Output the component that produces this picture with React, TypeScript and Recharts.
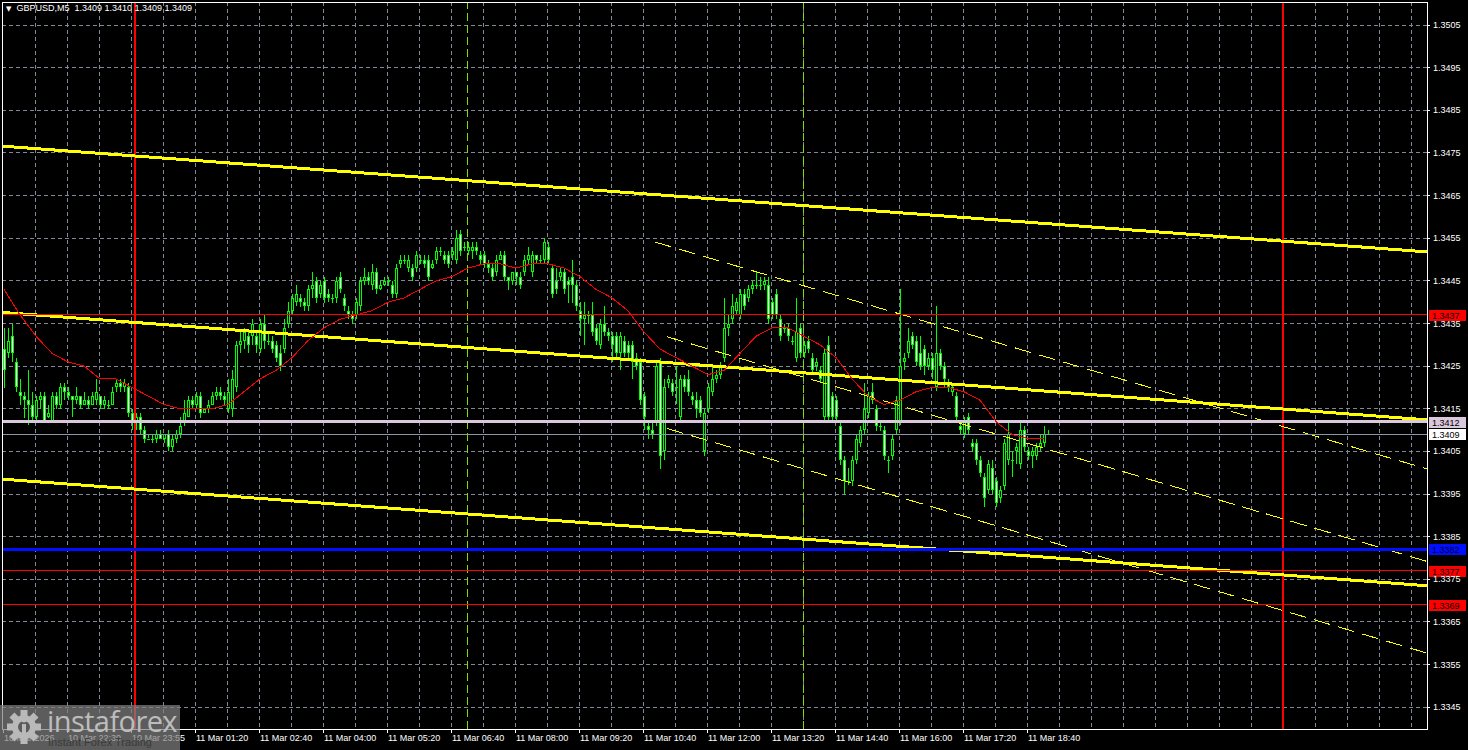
import { ComposedChart, Bar, Line, XAxis, YAxis, CartesianGrid, ReferenceLine } from "recharts";

const FONT = '"Liberation Sans", Arial, sans-serif';
const W = 1468;
const H = 750;

const symbol = "GBPUSD,M5";

// time labels on the bottom scale and the bar position each one sits on
const timeLabels = [
  "10 Mar 2026", "10 Mar 22:30", "10 Mar 23:55", "11 Mar 01:20", "11 Mar 02:40", "11 Mar 04:00",
  "11 Mar 05:20", "11 Mar 06:40", "11 Mar 08:00", "11 Mar 09:20", "11 Mar 10:40", "11 Mar 12:00",
  "11 Mar 13:20", "11 Mar 14:40", "11 Mar 16:00", "11 Mar 17:20", "11 Mar 18:40",
];
const timeTicks = [
  -0.25, 15.75, 31.75, 47.75, 63.75, 79.75, 95.75, 111.75, 127.75, 143.75, 159.75, 175.75,
  191.75, 207.75, 223.75, 239.75, 255.75,
];

const priceTicks = [
  1.3345, 1.3355, 1.3365, 1.3375, 1.3385, 1.3395, 1.3405, 1.3415, 1.3425, 1.3435, 1.3445,
  1.3455, 1.3465, 1.3475, 1.3485, 1.3495, 1.3505,
];

// 5 minute candles: [open, high, low, close]
const candles: [number, number, number, number][] = [
  [1.3429, 1.3434, 1.3420, 1.3424], [1.3428, 1.3434, 1.3427, 1.3431], [1.3432, 1.3435, 1.3426, 1.3428], [1.3426, 1.3427, 1.3419, 1.3420],
  [1.3419, 1.3422, 1.3416, 1.3418], [1.3418, 1.3419, 1.3413, 1.3417], [1.3417, 1.3424, 1.3411, 1.3416], [1.3416, 1.3419, 1.3412, 1.3413],
  [1.3413, 1.3418, 1.3412, 1.3417], [1.3417, 1.3419, 1.3415, 1.3418], [1.3418, 1.3419, 1.3412, 1.3412], [1.3413, 1.3416, 1.3413, 1.3414],
  [1.3412, 1.3419, 1.3412, 1.3418], [1.3418, 1.3419, 1.3415, 1.3416], [1.3416, 1.3421, 1.3415, 1.3420], [1.3420, 1.3421, 1.3417, 1.3419],
  [1.3419, 1.3420, 1.3417, 1.3418], [1.3418, 1.3418, 1.3413, 1.3417], [1.3417, 1.3420, 1.3416, 1.3418], [1.3418, 1.3418, 1.3415, 1.3416],
  [1.3416, 1.3419, 1.3416, 1.3417], [1.3417, 1.3418, 1.3415, 1.3416], [1.3416, 1.3419, 1.3416, 1.3418], [1.3417, 1.3422, 1.3416, 1.3419],
  [1.3418, 1.3418, 1.3415, 1.3416], [1.3416, 1.3418, 1.3415, 1.3417], [1.3416, 1.3417, 1.3415, 1.3416], [1.3416, 1.3420, 1.3416, 1.3419],
  [1.3420, 1.3422, 1.3419, 1.3421], [1.3421, 1.3422, 1.3419, 1.3420], [1.3420, 1.3422, 1.3419, 1.3421], [1.3420, 1.3421, 1.3413, 1.3414],
  [1.3414, 1.3415, 1.3410, 1.3412], [1.3412, 1.3414, 1.3410, 1.3413], [1.3413, 1.3414, 1.3409, 1.3410], [1.3410, 1.3411, 1.3407, 1.3408],
  [1.3408, 1.3409, 1.3408, 1.3408], [1.3408, 1.3409, 1.3407, 1.3408], [1.3408, 1.3410, 1.3407, 1.3409], [1.3409, 1.3410, 1.3408, 1.3408],
  [1.3408, 1.3409, 1.3407, 1.3409], [1.3409, 1.3410, 1.3405, 1.3406], [1.3406, 1.3409, 1.3405, 1.3408], [1.3408, 1.3410, 1.3407, 1.3409],
  [1.3409, 1.3413, 1.3408, 1.3411], [1.3412, 1.3417, 1.3411, 1.3414], [1.3413, 1.3418, 1.3413, 1.3417], [1.3417, 1.3418, 1.3415, 1.3416],
  [1.3416, 1.3419, 1.3415, 1.3418], [1.3418, 1.3419, 1.3413, 1.3414], [1.3414, 1.3415, 1.3414, 1.3415], [1.3415, 1.3417, 1.3414, 1.3416],
  [1.3416, 1.3419, 1.3416, 1.3418], [1.3418, 1.3420, 1.3417, 1.3419], [1.3419, 1.3420, 1.3417, 1.3418], [1.3418, 1.3419, 1.3416, 1.3417],
  [1.3415, 1.3422, 1.3414, 1.3419], [1.3415, 1.3424, 1.3413, 1.3422], [1.3420, 1.3431, 1.3419, 1.3430], [1.3430, 1.3433, 1.3428, 1.3431],
  [1.3431, 1.3434, 1.3429, 1.3433], [1.3432, 1.3433, 1.3428, 1.3430], [1.3432, 1.3436, 1.3430, 1.3435], [1.3432, 1.3433, 1.3428, 1.3430],
  [1.3429, 1.3436, 1.3428, 1.3435], [1.3435, 1.3437, 1.3429, 1.3431], [1.3431, 1.3433, 1.3430, 1.3431], [1.3431, 1.3432, 1.3428, 1.3429],
  [1.3430, 1.3431, 1.3426, 1.3427], [1.3428, 1.3430, 1.3424, 1.3425], [1.3429, 1.3436, 1.3428, 1.3434], [1.3435, 1.3440, 1.3434, 1.3438],
  [1.3438, 1.3442, 1.3437, 1.3441], [1.3440, 1.3444, 1.3439, 1.3442], [1.3441, 1.3442, 1.3439, 1.3440], [1.3440, 1.3441, 1.3438, 1.3439],
  [1.3439, 1.3444, 1.3438, 1.3443], [1.3443, 1.3447, 1.3441, 1.3444], [1.3445, 1.3446, 1.3440, 1.3441], [1.3442, 1.3445, 1.3441, 1.3444],
  [1.3445, 1.3446, 1.3440, 1.3441], [1.3442, 1.3443, 1.3440, 1.3441], [1.3441, 1.3442, 1.3440, 1.3441], [1.3441, 1.3446, 1.3440, 1.3445],
  [1.3446, 1.3447, 1.3442, 1.3443], [1.3441, 1.3442, 1.3438, 1.3439], [1.3438, 1.3439, 1.3436, 1.3437], [1.3437, 1.3438, 1.3435, 1.3436],
  [1.3437, 1.3441, 1.3436, 1.3440], [1.3439, 1.3446, 1.3438, 1.3445], [1.3445, 1.3448, 1.3444, 1.3446], [1.3446, 1.3447, 1.3444, 1.3445],
  [1.3444, 1.3449, 1.3443, 1.3447], [1.3447, 1.3448, 1.3442, 1.3443], [1.3443, 1.3445, 1.3443, 1.3444], [1.3444, 1.3446, 1.3444, 1.3445],
  [1.3445, 1.3446, 1.3444, 1.3445], [1.3444, 1.3445, 1.3441, 1.3442], [1.3442, 1.3449, 1.3441, 1.3448], [1.3449, 1.3451, 1.3448, 1.3450],
  [1.3450, 1.3451, 1.3449, 1.3450], [1.3448, 1.3451, 1.3447, 1.3450], [1.3448, 1.3449, 1.3445, 1.3446], [1.3448, 1.3452, 1.3447, 1.3451],
  [1.3450, 1.3451, 1.3449, 1.3450], [1.3450, 1.3451, 1.3448, 1.3449], [1.3450, 1.3451, 1.3445, 1.3446], [1.3448, 1.3450, 1.3448, 1.3449],
  [1.3450, 1.3453, 1.3449, 1.3452], [1.3452, 1.3453, 1.3451, 1.3452], [1.3451, 1.3452, 1.3449, 1.3450], [1.3451, 1.3452, 1.3448, 1.3449],
  [1.3451, 1.3453, 1.3450, 1.3452], [1.3450, 1.3457, 1.3449, 1.3455], [1.3456, 1.3457, 1.3451, 1.3452], [1.3453, 1.3454, 1.3452, 1.3453],
  [1.3452, 1.3454, 1.3451, 1.3453], [1.3452, 1.3454, 1.3450, 1.3453], [1.3453, 1.3454, 1.3451, 1.3452], [1.3451, 1.3452, 1.3449, 1.3450],
  [1.3451, 1.3452, 1.3448, 1.3449], [1.3449, 1.3450, 1.3447, 1.3448], [1.3448, 1.3449, 1.3445, 1.3446], [1.3447, 1.3451, 1.3446, 1.3450],
  [1.3450, 1.3452, 1.3450, 1.3451], [1.3451, 1.3452, 1.3445, 1.3446], [1.3446, 1.3446, 1.3443, 1.3445], [1.3445, 1.3447, 1.3444, 1.3447],
  [1.3447, 1.3447, 1.3444, 1.3446], [1.3446, 1.3447, 1.3443, 1.3444], [1.3447, 1.3451, 1.3446, 1.3450], [1.3450, 1.3453, 1.3449, 1.3451],
  [1.3447, 1.3452, 1.3446, 1.3451], [1.3451, 1.3451, 1.3449, 1.3450], [1.3450, 1.3451, 1.3449, 1.3450], [1.3450, 1.3455, 1.3449, 1.3454],
  [1.3453, 1.3454, 1.3449, 1.3450], [1.3448, 1.3449, 1.3441, 1.3442], [1.3445, 1.3448, 1.3442, 1.3443], [1.3446, 1.3448, 1.3445, 1.3447],
  [1.3447, 1.3448, 1.3442, 1.3443], [1.3445, 1.3446, 1.3440, 1.3444], [1.3446, 1.3450, 1.3440, 1.3444], [1.3444, 1.3445, 1.3438, 1.3439],
  [1.3438, 1.3440, 1.3432, 1.3436], [1.3436, 1.3440, 1.3430, 1.3437], [1.3437, 1.3438, 1.3435, 1.3437], [1.3437, 1.3440, 1.3432, 1.3433],
  [1.3434, 1.3435, 1.3430, 1.3431], [1.3430, 1.3436, 1.3429, 1.3435], [1.3435, 1.3439, 1.3432, 1.3433], [1.3433, 1.3434, 1.3431, 1.3432],
  [1.3432, 1.3433, 1.3426, 1.3430], [1.3432, 1.3433, 1.3427, 1.3428], [1.3428, 1.3433, 1.3424, 1.3432], [1.3431, 1.3432, 1.3427, 1.3428],
  [1.3430, 1.3431, 1.3427, 1.3428], [1.3430, 1.3431, 1.3422, 1.3426], [1.3427, 1.3428, 1.3424, 1.3425], [1.3426, 1.3427, 1.3416, 1.3417],
  [1.3418, 1.3419, 1.3410, 1.3413], [1.3411, 1.3412, 1.3408, 1.3410], [1.3410, 1.3412, 1.3408, 1.3409], [1.3412, 1.3426, 1.3411, 1.3425],
  [1.3426, 1.3427, 1.3401, 1.3404], [1.3405, 1.3422, 1.3403, 1.3420], [1.3421, 1.3423, 1.3420, 1.3422], [1.3421, 1.3422, 1.3418, 1.3419],
  [1.3420, 1.3425, 1.3416, 1.3420], [1.3413, 1.3423, 1.3412, 1.3422], [1.3422, 1.3423, 1.3419, 1.3420], [1.3422, 1.3424, 1.3418, 1.3419],
  [1.3418, 1.3419, 1.3416, 1.3417], [1.3417, 1.3419, 1.3413, 1.3415], [1.3417, 1.3418, 1.3413, 1.3414], [1.3405, 1.3415, 1.3404, 1.3414],
  [1.3415, 1.3421, 1.3414, 1.3420], [1.3419, 1.3425, 1.3418, 1.3422], [1.3422, 1.3424, 1.3421, 1.3423], [1.3423, 1.3426, 1.3422, 1.3425],
  [1.3427, 1.3441, 1.3426, 1.3434], [1.3434, 1.3437, 1.3432, 1.3435], [1.3436, 1.3442, 1.3435, 1.3439], [1.3438, 1.3441, 1.3437, 1.3440],
  [1.3437, 1.3443, 1.3436, 1.3442], [1.3442, 1.3443, 1.3438, 1.3439], [1.3441, 1.3444, 1.3440, 1.3443], [1.3443, 1.3445, 1.3442, 1.3444],
  [1.3444, 1.3447, 1.3443, 1.3444], [1.3444, 1.3446, 1.3443, 1.3444], [1.3444, 1.3446, 1.3443, 1.3445], [1.3444, 1.3446, 1.3435, 1.3436],
  [1.3440, 1.3441, 1.3436, 1.3437], [1.3442, 1.3443, 1.3436, 1.3437], [1.3436, 1.3437, 1.3431, 1.3432], [1.3434, 1.3435, 1.3433, 1.3434],
  [1.3434, 1.3435, 1.3431, 1.3432], [1.3431, 1.3432, 1.3430, 1.3431], [1.3427, 1.3441, 1.3426, 1.3433], [1.3434, 1.3435, 1.3427, 1.3428],
  [1.3428, 1.3431, 1.3427, 1.3430], [1.3431, 1.3432, 1.3428, 1.3429], [1.3427, 1.3428, 1.3423, 1.3424], [1.3425, 1.3427, 1.3424, 1.3426],
  [1.3424, 1.3425, 1.3421, 1.3422], [1.3413, 1.3429, 1.3412, 1.3428], [1.3430, 1.3432, 1.3412, 1.3413], [1.3418, 1.3419, 1.3412, 1.3413],
  [1.3417, 1.3418, 1.3412, 1.3413], [1.3411, 1.3412, 1.3402, 1.3403], [1.3403, 1.3404, 1.3395, 1.3398], [1.3398, 1.3401, 1.3397, 1.3398],
  [1.3398, 1.3404, 1.3397, 1.3403], [1.3403, 1.3409, 1.3402, 1.3408], [1.3407, 1.3411, 1.3406, 1.3410], [1.3410, 1.3421, 1.3409, 1.3415],
  [1.3414, 1.3419, 1.3413, 1.3418], [1.3419, 1.3421, 1.3416, 1.3417], [1.3415, 1.3416, 1.3410, 1.3411], [1.3411, 1.3412, 1.3410, 1.3411],
  [1.3410, 1.3411, 1.3403, 1.3404], [1.3403, 1.3404, 1.3400, 1.3403], [1.3404, 1.3409, 1.3403, 1.3408], [1.3410, 1.3418, 1.3409, 1.3417],
  [1.3412, 1.3443, 1.3411, 1.3425], [1.3426, 1.3428, 1.3424, 1.3427], [1.3428, 1.3434, 1.3427, 1.3431], [1.3432, 1.3433, 1.3429, 1.3430],
  [1.3431, 1.3432, 1.3425, 1.3426], [1.3428, 1.3432, 1.3424, 1.3425], [1.3429, 1.3430, 1.3423, 1.3425], [1.3425, 1.3428, 1.3424, 1.3427],
  [1.3427, 1.3428, 1.3422, 1.3424], [1.3420, 1.3439, 1.3419, 1.3428], [1.3428, 1.3429, 1.3424, 1.3425], [1.3425, 1.3426, 1.3420, 1.3422],
  [1.3421, 1.3422, 1.3419, 1.3420], [1.3419, 1.3421, 1.3418, 1.3420], [1.3418, 1.3419, 1.3412, 1.3413], [1.3411, 1.3412, 1.3409, 1.3410],
  [1.3409, 1.3413, 1.3408, 1.3412], [1.3413, 1.3414, 1.3409, 1.3410], [1.3407, 1.3408, 1.3405, 1.3406], [1.3407, 1.3408, 1.3402, 1.3403],
  [1.3403, 1.3404, 1.3399, 1.3400], [1.3399, 1.3400, 1.3392, 1.3394], [1.3396, 1.3403, 1.3395, 1.3402], [1.3401, 1.3403, 1.3395, 1.3396],
  [1.3398, 1.3399, 1.3392, 1.3393], [1.3394, 1.3397, 1.3393, 1.3396], [1.3397, 1.3408, 1.3396, 1.3407], [1.3403, 1.3412, 1.3402, 1.3409],
  [1.3403, 1.3405, 1.3399, 1.3403], [1.3405, 1.3407, 1.3402, 1.3406], [1.3402, 1.3412, 1.3401, 1.3410], [1.3410, 1.3411, 1.3405, 1.3406],
  [1.3405, 1.3406, 1.3403, 1.3404], [1.3404, 1.3406, 1.3401, 1.3405], [1.3404, 1.3407, 1.3403, 1.3406], [1.3406, 1.3409, 1.3405, 1.3407],
  [1.3407, 1.3411, 1.3406, 1.3409], [1.3409, 1.3410, 1.3409, 1.3409],
];

// red moving average
const maEvery4 = [
  1.3443, 1.3437, 1.3432, 1.3428, 1.3426, 1.3425, 1.3422, 1.3422, 1.3420, 1.3418, 1.3416,
  1.3415, 1.3415, 1.3415, 1.3416, 1.3419, 1.3422, 1.3424, 1.3427, 1.3431, 1.3434, 1.3436,
  1.3437, 1.3438, 1.3440, 1.3441, 1.3443, 1.3445, 1.3446, 1.3448, 1.3449, 1.3449, 1.3448,
  1.3449, 1.3449, 1.3448, 1.3446, 1.3443, 1.3441, 1.3438, 1.3433, 1.3429, 1.3427, 1.3425,
  1.3423, 1.3424, 1.3428, 1.3432, 1.3434, 1.3434, 1.3432, 1.3430, 1.3427, 1.3422, 1.3418,
  1.3416, 1.3417, 1.3419, 1.3420, 1.3420, 1.3419, 1.3417, 1.3412, 1.3409, 1.3408, 1.3408,
];

const redLevels = [1.3437, 1.3377, 1.3369];
const pinkLevel = 1.3412;
const bidLevel = 1.3409;
const blueLevel = 1.3382;

const dayStarts = [32.75, 319.75];
const sessionMarks = [115.875, 199.75];

// thick yellow channel: price at left edge, price at right edge
const mainChannel = [
  [1.34766, 1.34518],
  [1.34376, 1.34124],
  [1.33985, 1.33735],
];
// thin dashed channel: start bar, start price, price at right edge
const shortChannel = [
  [162.75, 1.34541, 1.34009],
  [165.7, 1.34319, 1.33792],
  [165.7, 1.34104, 1.33577],
];

const X_MIN = -0.5;
const X_MAX = 355.75;
const Y_MIN = 1.33399;
const Y_MAX = 1.35104;

const gridX = Array.from({ length: 44 }, (_, k) => 7.75 + 8 * k);

const data = candles.map(([o, h, l, c], i) => ({
  i,
  o,
  h,
  l,
  c,
  range: [l, h],
  ma: i % 4 === 0 && maEvery4[i / 4] !== undefined ? maEvery4[i / 4] : null,
}));

const last = candles[candles.length - 1];

function Candle(props: any) {
  const { x, y, width, height, payload } = props;
  if (x == null || y == null || !payload) return null;
  const cx = Math.round(x + width / 2);
  const top = Math.min(y, y + height);
  const hgt = Math.abs(height);
  const span = payload.h - payload.l;
  const py = (v: number) => (span > 0 ? top + ((payload.h - v) / span) * hgt : top);
  const yo = py(payload.o);
  const yc = py(payload.c);
  const bTop = Math.round(Math.min(yo, yc));
  const bBot = Math.round(Math.max(yo, yc));
  const bh = Math.max(1, bBot - bTop);
  const bear = payload.c < payload.o;
  return (
    <g>
      <rect x={cx} y={Math.round(top)} width={1} height={Math.max(1, Math.round(hgt))} fill="#00ff00" />
      <rect x={cx - 1} y={bTop} width={3} height={bh} fill="#00ff00" />
      {bh > 2 && <rect x={cx} y={bTop + 1} width={1} height={bh - 2} fill={bear ? "#ffffff" : "#000000"} />}
    </g>
  );
}

function PriceTag(props: any) {
  const vb = props.viewBox;
  if (!vb) return null;
  const x = vb.x + vb.width + 2;
  return (
    <g>
      <rect x={x} y={Math.round(vb.y) - 5} width={37} height={11} fill={props.bg} />
      <text x={x + 3} y={Math.round(vb.y) + 4} fill={props.fg} fontSize={9} fontFamily={FONT}>
        {props.text}
      </text>
    </g>
  );
}

function TimeTick(props: any) {
  const { x, y, payload } = props;
  const k = timeTicks.indexOf(payload.value);
  if (k < 0) return null;
  return (
    <text x={x + 1} y={y + 6} fill="#ffffff" fontSize={9} fontFamily={FONT}>
      {timeLabels[k]}
    </text>
  );
}

function PriceTick(props: any) {
  const { x, y, payload } = props;
  return (
    <text x={x} y={y + 3} fill="#ffffff" fontSize={9} fontFamily={FONT}>
      {Number(payload.value).toFixed(4)}
    </text>
  );
}

function Gear() {
  const teeth = Array.from({ length: 8 }, (_, k) => k * 45);
  return (
    <svg width={36} height={36} viewBox="-18 -18 36 36" style={{ position: "absolute", left: 6, top: 709 }}>
      {teeth.map((a) => (
        <rect key={a} x={-3.5} y={-17} width={7} height={8} fill="#b9b9b9" transform={`rotate(${a})`} />
      ))}
      <circle r={12} fill="#b9b9b9" />
      <circle r={6} fill="#5c5c5c" />
      <rect x={-2} y={-3} width={4} height={13} fill="#b9b9b9" />
      <circle cy={-7} r={2.5} fill="#b9b9b9" />
    </svg>
  );
}

export default function App() {
  return (
    <div style={{ position: "absolute", left: 0, top: 0, width: W, height: H, background: "#000000", overflow: "hidden" }}>
      <ComposedChart
        width={W}
        height={H}
        data={data}
        margin={{ top: 2, right: 0, bottom: 0, left: 2 }}
        style={{ shapeRendering: "crispEdges" }}
      >
        <CartesianGrid
          stroke="#7f8894"
          strokeDasharray="4 3"
          verticalValues={gridX}
        />
        <XAxis
          dataKey="i"
          type="number"
          domain={[X_MIN, X_MAX]}
          allowDataOverflow
          ticks={timeTicks}
          interval={0}
          height={21}
          tickSize={4}
          tickMargin={2}
          axisLine={false}
          tickLine={{ stroke: "#ffffff" }}
          tick={<TimeTick />}
        />
        <YAxis
          orientation="right"
          type="number"
          domain={[Y_MIN, Y_MAX]}
          allowDataOverflow
          ticks={priceTicks}
          interval={0}
          width={41}
          tickSize={3}
          tickMargin={3}
          axisLine={false}
          tickLine={{ stroke: "#ffffff" }}
          tick={<PriceTick />}
        />
        <Bar dataKey="range" barSize={3} shape={<Candle />} isAnimationActive={false} />

        {dayStarts.map((d) => (
          <ReferenceLine key={"d" + d} x={d} stroke="#ff0000" strokeWidth={2} />
        ))}
        {sessionMarks.map((d) => (
          <ReferenceLine key={"s" + d} x={d} stroke="#80e000" strokeDasharray="8 4" />
        ))}

        {mainChannel.map(([a, b], k) => (
          <ReferenceLine
            key={"m" + k}
            segment={[{ x: X_MIN, y: a }, { x: X_MAX, y: b }]}
            stroke="#ffff00"
            strokeWidth={3}
            ifOverflow="hidden"
          />
        ))}
        {shortChannel.map(([x0, a, b], k) => (
          <ReferenceLine
            key={"c" + k}
            segment={[{ x: x0, y: a }, { x: X_MAX, y: b }]}
            stroke="#ffff00"
            strokeDasharray="17 8"
            ifOverflow="hidden"
          />
        ))}

        <ReferenceLine y={pinkLevel} stroke="#dcc8dc" strokeWidth={3} label={<PriceTag bg="#dcc8dc" fg="#000000" text={pinkLevel.toFixed(4)} />} />
        <ReferenceLine y={bidLevel} stroke="#8796a8" label={<PriceTag bg="#ffffff" fg="#000000" text={bidLevel.toFixed(4)} />} />
        <ReferenceLine y={blueLevel} stroke="#0010ff" strokeWidth={3} label={<PriceTag bg="#0010ff" fg="#000030" text={blueLevel.toFixed(4)} />} />
        {redLevels.map((v) => (
          <ReferenceLine key={"r" + v} y={v} stroke="#ff0000" label={<PriceTag bg="#ff0000" fg="#000000" text={v.toFixed(4)} />} />
        ))}

        <Line
          dataKey="ma"
          type="linear"
          stroke="#ff0000"
          strokeWidth={1}
          dot={false}
          activeDot={false}
          connectNulls
          isAnimationActive={false}
        />
      </ComposedChart>

      {/* chart frame */}
      <div
        style={{
          position: "absolute",
          left: 2,
          top: 2,
          width: 1426,
          height: 728,
          border: "1px solid #ffffff",
          boxSizing: "border-box",
          pointerEvents: "none",
        }}
      />

      <div style={{ position: "absolute", left: 6, top: 3, color: "#ffffff", fontFamily: FONT, fontSize: 9, whiteSpace: "pre" }}>
        <span style={{ fontSize: 7, fontFamily: '"DejaVu Sans"' }}>▼</span>
        {"  " + symbol + "  " + last.map((v) => v.toFixed(4)).join(" ")}
      </div>

      {/* watermark */}
      <div style={{ position: "absolute", left: 0, top: 705, width: 180, height: 45, background: "rgba(128,128,128,0.72)" }} />
      <Gear />
      <div
        style={{
          position: "absolute",
          left: 47,
          top: 701,
          color: "#bdbdbd",
          fontFamily: '"Open Sans", Lato, sans-serif',
          fontSize: 29,
          letterSpacing: -0.6,
          whiteSpace: "nowrap",
        }}
      >
        instaforex
      </div>
      <div
        style={{
          position: "absolute",
          left: 48,
          top: 736,
          color: "#3a3a3a",
          fontFamily: FONT,
          fontSize: 11,
          whiteSpace: "nowrap",
        }}
      >
        Instant Forex Trading
      </div>
    </div>
  );
}
